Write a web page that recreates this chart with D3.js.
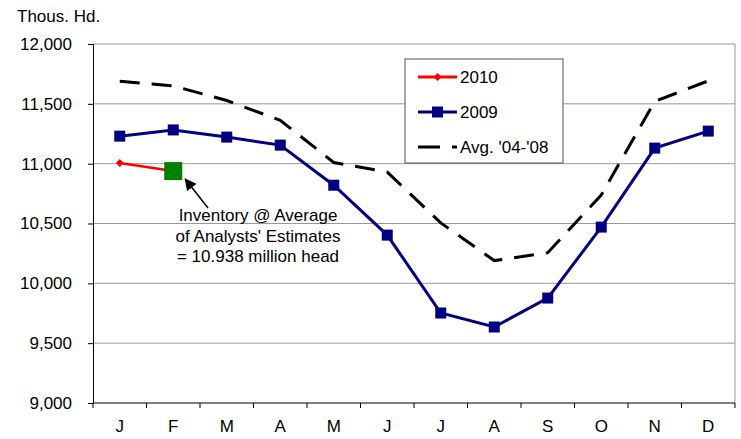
<!DOCTYPE html>
<html>
<head>
<meta charset="utf-8">
<script src="https://cdn.jsdelivr.net/npm/d3@7"></script>
<style>
  body { margin: 0; background: #fff; }
  text { font-family: "Liberation Sans", Arial, sans-serif; fill: #000; }
</style>
</head>
<body>
<svg id="chart"></svg>
<script>
// data
const months = ['J', 'F', 'M', 'A', 'M', 'J', 'J', 'A', 'S', 'O', 'N', 'D']
const y2010 = [11005, 10938]
const y2009 = [11230, 11282, 11222, 11155, 10820, 10403, 9752, 9635, 9877, 10470, 11130, 11272]
const avg0408 = [11688, 11650, 11528, 11362, 11010, 10930, 10505, 10190, 10256, 10738, 11520, 11692]
const yTicks = [9000, 9500, 10000, 10500, 11000, 11500, 12000]
const estimate = 10938

const width = 741, height = 439
const margin = { top: 44, right: 6, bottom: 36, left: 93 }
const fontSize = 17

const svg = d3.select('#chart')
  .attr('width', width)
  .attr('height', height)

const x = d3.scaleBand()
  .domain(d3.range(months.length))
  .range([margin.left, width - margin.right])

const y = d3.scaleLinear()
  .domain([9000, 12000])
  .range([height - margin.bottom, margin.top])

const cx = i => x(i) + x.bandwidth() / 2

// grid + right frame
svg.append('g')
  .selectAll('line')
  .data(yTicks.slice(1))
  .join('line')
  .attr('x1', margin.left)
  .attr('x2', width - margin.right)
  .attr('y1', d => y(d))
  .attr('y2', d => y(d))
  .attr('stroke', '#999')
  .attr('stroke-width', 1)

svg.append('line')
  .attr('x1', width - margin.right).attr('x2', width - margin.right)
  .attr('y1', margin.top).attr('y2', height - margin.bottom)
  .attr('stroke', '#999')

// y axis
const yAxis = d3.axisLeft(y)
  .tickValues(yTicks)
  .tickFormat(d3.format(','))
  .tickSize(5)
  .tickPadding(16)

svg.append('g')
  .attr('transform', `translate(${margin.left},0)`)
  .call(yAxis)
  .call(g => g.selectAll('text').attr('font-size', fontSize).attr('font-family', '"Liberation Sans", Arial, sans-serif'))
  .call(g => g.selectAll('line, path').attr('stroke', '#000'))

// x axis
const xAxis = d3.axisBottom(x)
  .tickFormat(i => months[i])
  .tickSize(0)
  .tickPadding(17)

svg.append('g')
  .attr('transform', `translate(0,${height - margin.bottom})`)
  .call(xAxis)
  .call(g => g.select('.domain').attr('stroke', '#000').attr('d', `M${margin.left},0H${width - margin.right}`))
  .call(g => g.selectAll('text').attr('font-size', fontSize).attr('font-family', '"Liberation Sans", Arial, sans-serif'))

// tick marks between the months
svg.append('g')
  .selectAll('line')
  .data(d3.range(months.length + 1))
  .join('line')
  .attr('x1', i => margin.left + i * x.bandwidth())
  .attr('x2', i => margin.left + i * x.bandwidth())
  .attr('y1', height - margin.bottom)
  .attr('y2', height - margin.bottom + 5)
  .attr('stroke', '#000')

svg.append('text')
  .attr('x', 17)
  .attr('y', 22)
  .attr('font-size', fontSize)
  .text('Thous. Hd.')

const line = d3.line()
  .x((_, i) => cx(i))
  .y(d => y(d))

// avg '04-'08
svg.append('path')
  .datum(avg0408)
  .attr('fill', 'none')
  .attr('stroke', '#000')
  .attr('stroke-width', 3)
  .attr('stroke-dasharray', '20,12')
  .attr('d', line)

// 2009
svg.append('path')
  .datum(y2009)
  .attr('fill', 'none')
  .attr('stroke', '#000080')
  .attr('stroke-width', 3)
  .attr('d', line)

svg.append('g')
  .selectAll('rect')
  .data(y2009)
  .join('rect')
  .attr('x', (_, i) => cx(i) - 5.5)
  .attr('y', d => y(d) - 5.5)
  .attr('width', 11)
  .attr('height', 11)
  .attr('fill', '#000080')

// 2010
svg.append('path')
  .datum(y2010)
  .attr('fill', 'none')
  .attr('stroke', '#ff0000')
  .attr('stroke-width', 2.5)
  .attr('d', line)

svg.append('path')
  .attr('transform', `translate(${cx(0)},${y(y2010[0])})`)
  .attr('d', d3.symbol(d3.symbolDiamond2, 40)())
  .attr('fill', '#ff0000')

// analysts' estimate
svg.append('rect')
  .attr('x', cx(1) - 9)
  .attr('y', y(estimate) - 9)
  .attr('width', 18)
  .attr('height', 18)
  .attr('fill', '#008000')

// annotation arrow
svg.append('defs').append('marker')
  .attr('id', 'arrow')
  .attr('viewBox', '0 0 10 10')
  .attr('refX', 9).attr('refY', 5)
  .attr('markerWidth', 8).attr('markerHeight', 8)
  .attr('orient', 'auto')
  .append('path')
  .attr('d', 'M0,0L10,5L0,10z')
  .attr('fill', '#000')

svg.append('line')
  .attr('x1', 208).attr('y1', 208)
  .attr('x2', cx(1) + 12).attr('y2', y(estimate) + 8)
  .attr('stroke', '#000')
  .attr('stroke-width', 1.5)
  .attr('marker-end', 'url(#arrow)')

const note = svg.append('text')
  .attr('text-anchor', 'middle')
  .attr('font-size', fontSize)
const noteLines = ['Inventory @ Average', "of Analysts' Estimates", '= 10.938 million head']
noteLines.forEach((t, i) => {
  note.append('tspan').attr('x', 258).attr('y', 221 + i * 20.5).text(t)
})

// legend
svg.append('rect')
  .attr('x', 405).attr('y', 59)
  .attr('width', 158).attr('height', 104)
  .attr('fill', '#fff')
  .attr('stroke', '#555')
  .attr('stroke-width', 1)

const legend = svg.append('g')

const legendItems = [
  { label: '2010', color: '#ff0000', dash: null, marker: 'diamond' },
  { label: '2009', color: '#000080', dash: null, marker: 'square' },
  { label: "Avg. '04-'08", color: '#000', dash: '22,12', marker: null }
]

legendItems.forEach((d, i) => {
  const ly = 77 + i * 35
  legend.append('line')
    .attr('x1', 418).attr('x2', 457)
    .attr('y1', ly).attr('y2', ly)
    .attr('stroke', d.color)
    .attr('stroke-width', 3)
    .attr('stroke-dasharray', d.dash)
  if (d.marker === 'diamond') {
    legend.append('path')
      .attr('transform', `translate(437.5,${ly})`)
      .attr('d', d3.symbol(d3.symbolDiamond2, 40)())
      .attr('fill', d.color)
  } else if (d.marker === 'square') {
    legend.append('rect')
      .attr('x', 432).attr('y', ly - 5.5)
      .attr('width', 11).attr('height', 11)
      .attr('fill', d.color)
  }
  legend.append('text')
    .attr('x', 460)
    .attr('y', ly + 6)
    .attr('font-size', fontSize)
    .text(d.label)
})
</script>
</body>
</html>
